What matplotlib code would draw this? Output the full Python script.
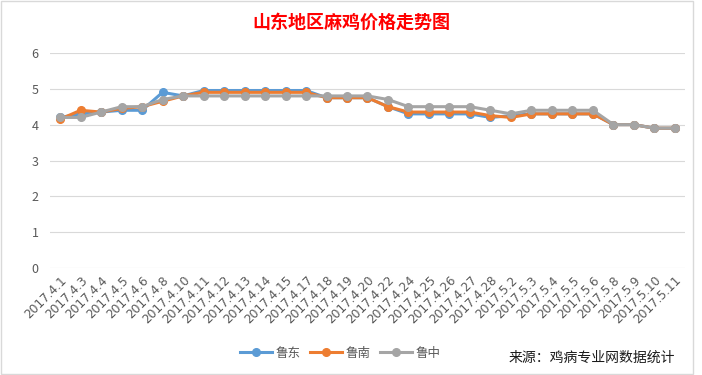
import matplotlib
matplotlib.use("Agg")
import matplotlib.pyplot as plt
from matplotlib.patches import Rectangle

plt.rcParams['font.family'] = ['Noto Sans CJK SC', 'DejaVu Sans']

dates = ["2017.4.1", "2017.4.3", "2017.4.4", "2017.4.5", "2017.4.6", "2017.4.8",
         "2017.4.10", "2017.4.11", "2017.4.12", "2017.4.13", "2017.4.14", "2017.4.15",
         "2017.4.17", "2017.4.18", "2017.4.19", "2017.4.20", "2017.4.22", "2017.4.24",
         "2017.4.25", "2017.4.26", "2017.4.27", "2017.4.28", "2017.5.2", "2017.5.3",
         "2017.5.4", "2017.5.5", "2017.5.6", "2017.5.8", "2017.5.9", "2017.5.10", "2017.5.11"]

ludong = [4.2, 4.3, 4.35, 4.4, 4.4, 4.9, 4.8, 4.95, 4.95, 4.95, 4.95, 4.95, 4.95,
          4.75, 4.75, 4.75, 4.5, 4.3, 4.3, 4.3, 4.3, 4.2, 4.25, 4.3, 4.3, 4.3, 4.3,
          4.0, 4.0, 3.9, 3.9]
lunan = [4.15, 4.4, 4.35, 4.45, 4.5, 4.65, 4.8, 4.9, 4.9, 4.9, 4.9, 4.9, 4.9,
         4.75, 4.75, 4.75, 4.5, 4.35, 4.35, 4.35, 4.35, 4.25, 4.2, 4.3, 4.3, 4.3, 4.3,
         4.0, 4.0, 3.9, 3.9]
luzhong = [4.2, 4.2, 4.35, 4.5, 4.5, 4.7, 4.8, 4.8, 4.8, 4.8, 4.8, 4.8, 4.8,
           4.8, 4.8, 4.8, 4.7, 4.5, 4.5, 4.5, 4.5, 4.4, 4.3, 4.4, 4.4, 4.4, 4.4,
           4.0, 4.0, 3.9, 3.9]

series_names = ["鲁东", "鲁南", "鲁中"]
colors = ["#5B9BD5", "#ED7D31", "#A5A5A5"]

fig = plt.figure(figsize=(7.02, 3.75), dpi=100)
fig.patches.append(Rectangle((0.002, 0.003), 0.985, 0.994, transform=fig.transFigure,
                             fill=False, edgecolor="#D9D9D9", linewidth=1))
ax = fig.add_axes([0.071, 0.285, 0.905, 0.574])

x = list(range(len(dates)))
for vals, name, c in zip([ludong, lunan, luzhong], series_names, colors):
    ax.plot(x, vals, color=c, linewidth=2.2, marker="o", markersize=5.5, label=name,
            solid_joinstyle="round")

ax.set_xlim(-0.5, len(dates) - 0.5)
ax.set_ylim(0, 6)
ax.set_yticks(range(0, 7))
ax.grid(axis="y", color="#D9D9D9", linewidth=0.8)
ax.set_axisbelow(True)
for s in ["top", "right", "left", "bottom"]:
    ax.spines[s].set_visible(False)
ax.tick_params(axis="y", length=0, labelsize=9, labelcolor="#595959", pad=8)
ax.set_xticks(x)
ax.set_xticklabels(dates, rotation=45, ha="right", rotation_mode="anchor",
                   fontsize=8.7, color="#595959", family=["DejaVu Sans"])
ax.tick_params(axis="x", length=0, pad=4)

fig.text(0.5, 0.94, "山东地区麻鸡价格走势图", color="#FF0000", fontsize=13,
         fontweight="bold", ha="center", va="center")

leg = fig.legend(loc="center", bbox_to_anchor=(0.485, 0.058), ncol=3, frameon=False,
                 fontsize=9, handlelength=2.5, columnspacing=0.8, handletextpad=0.3)
for t in leg.get_texts():
    t.set_color("#595959")

fig.text(0.962, 0.045, "来源：鸡病专业网数据统计", fontsize=10, ha="right", va="center",
         color="#1a1a1a", fontweight="medium")

fig.savefig("out.png", dpi=100)
